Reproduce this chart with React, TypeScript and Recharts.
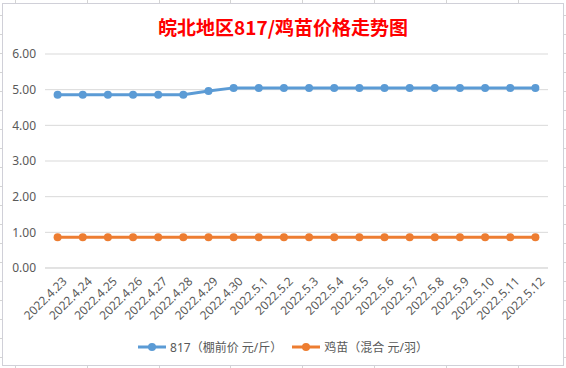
import { LineChart, Line, XAxis, YAxis, CartesianGrid, Legend } from 'recharts'

const dates = [
  '2022.4.23', '2022.4.24', '2022.4.25', '2022.4.26', '2022.4.27', '2022.4.28', '2022.4.29', '2022.4.30',
  '2022.5.1', '2022.5.2', '2022.5.3', '2022.5.4', '2022.5.5', '2022.5.6', '2022.5.7', '2022.5.8',
  '2022.5.9', '2022.5.10', '2022.5.11', '2022.5.12',
]
const broilerPrice = [4.86, 4.86, 4.86, 4.86, 4.86, 4.86, 4.96, 5.05, 5.05, 5.05, 5.05, 5.05, 5.05, 5.05, 5.05, 5.05, 5.05, 5.05, 5.05, 5.05]
const chickPrice = [0.86, 0.86, 0.86, 0.86, 0.86, 0.86, 0.86, 0.86, 0.86, 0.86, 0.86, 0.86, 0.86, 0.86, 0.86, 0.86, 0.86, 0.86, 0.86, 0.86]
const yTicks = [0, 1, 2, 3, 4, 5, 6]

const seriesNames = ['817（棚前价 元/斤）', '鸡苗（混合 元/羽）']
const BLUE = '#5B9BD5'
const ORANGE = '#ED7D31'
const GRID = '#D9D9D9'
const TEXT = '#595959'
const FONT = '"Noto Sans", "Noto Sans CJK SC", sans-serif'

const data = dates.map((d, i) => ({ date: d, broiler: broilerPrice[i], chick: chickPrice[i] }))

// spreadsheet cell lines behind the chart
const rowLines = Array.from({ length: 20 }, (_, i) => 15 + i * 19)
const colLines = Array.from({ length: 9 }, (_, i) => 15 + i * 71.8)

function LegendContent() {
  const items = [
    { name: seriesNames[0], color: BLUE },
    { name: seriesNames[1], color: ORANGE },
  ]
  return (
    <div style={{ display: 'flex', justifyContent: 'center', gap: 10, fontFamily: FONT, fontSize: 12, color: TEXT }}>
      {items.map((it) => (
        <div key={it.name} style={{ display: 'flex', alignItems: 'center' }}>
          <svg width={28} height={10} style={{ marginRight: 4 }}>
            <line x1={0} y1={5} x2={28} y2={5} stroke={it.color} strokeWidth={3} />
            <circle cx={14} cy={5} r={4} fill={it.color} />
          </svg>
          <span>{it.name}</span>
        </div>
      ))}
    </div>
  )
}

export default function App() {
  return (
    <div style={{ position: 'absolute', left: 0, top: 0, width: 566, height: 368, overflow: 'hidden', background: '#fff' }}>
      {rowLines.map((y) => (
        <div key={'r' + y} style={{ position: 'absolute', left: 0, top: y, width: 566, height: 1, background: '#D4D4D4' }} />
      ))}
      {colLines.map((x) => (
        <div key={'c' + x} style={{ position: 'absolute', left: Math.round(x), top: 0, width: 1, height: 368, background: '#D4D4D4' }} />
      ))}
      <div
        style={{
          position: 'absolute', left: 2, top: 3, width: 562, height: 363, boxSizing: 'border-box',
          border: '1px solid #D0D0D8', background: '#fff',
        }}
      >
        <div
          style={{
            position: 'absolute', left: 0, top: 10, width: 560, textAlign: 'center',
            fontFamily: '"Noto Sans CJK SC", sans-serif', fontWeight: 700, fontSize: 19, color: '#FF0000', lineHeight: '26px',
          }}
        >
          皖北地区817/鸡苗价格走势图
        </div>
        <LineChart width={560} height={361} data={data} margin={{ top: 50, right: 15, left: 0, bottom: 37 }}>
          <CartesianGrid vertical={false} stroke={GRID} />
          <XAxis
            dataKey="date"
            interval={0}
            height={60}
            padding={{ left: 12.6, right: 12.6 }}
            axisLine={{ stroke: GRID }}
            tickLine={false}
            tickSize={0}
            tickMargin={8}
            angle={-45}
            textAnchor="end"
            tick={{ fill: TEXT, fontSize: 12, fontFamily: FONT, dx: 4 }}
          />
          <YAxis
            domain={[0, 6]}
            ticks={yTicks}
            width={42}
            axisLine={false}
            tickLine={false}
            tickSize={0}
            tickMargin={9}
            tickFormatter={(v: number) => v.toFixed(2)}
            tick={{ fill: TEXT, fontSize: 12, fontFamily: FONT }}
          />
          <Legend
            verticalAlign="middle"
            content={<LegendContent />}
            wrapperStyle={{ top: 334, left: 0, width: 560 }}
          />
          <Line
            type="linear"
            dataKey="broiler"
            name={seriesNames[0]}
            stroke={BLUE}
            strokeWidth={3}
            dot={{ r: 4, fill: BLUE, stroke: BLUE, strokeWidth: 0 }}
            activeDot={false}
            isAnimationActive={false}
          />
          <Line
            type="linear"
            dataKey="chick"
            name={seriesNames[1]}
            stroke={ORANGE}
            strokeWidth={3}
            dot={{ r: 4, fill: ORANGE, stroke: ORANGE, strokeWidth: 0 }}
            activeDot={false}
            isAnimationActive={false}
          />
        </LineChart>
      </div>
    </div>
  )
}
